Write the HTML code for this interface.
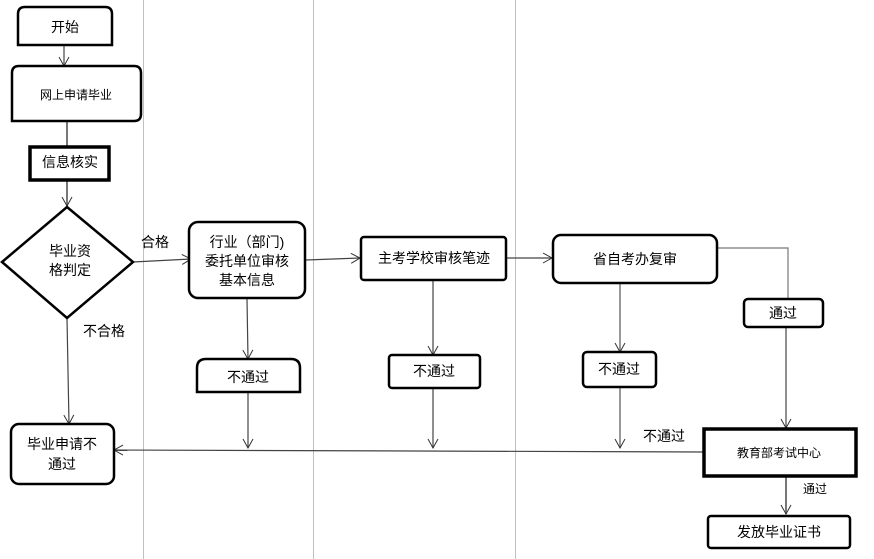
<!DOCTYPE html>
<html><head><meta charset="utf-8"><style>
html,body{margin:0;padding:0;background:#fff}
svg{display:block}
text{font-family:"Liberation Sans","Noto Sans CJK SC","WenQuanYi Zen Hei",sans-serif;fill:#000}
</style></head><body>
<svg width="874" height="559" viewBox="0 0 874 559" xmlns="http://www.w3.org/2000/svg">
<defs>
<marker id="a" markerWidth="12" markerHeight="12" refX="10" refY="6" orient="auto" markerUnits="userSpaceOnUse">
<path d="M1,1 L10,6 L1,11" fill="none" stroke="#333" stroke-width="1"/>
</marker>
</defs>
<g stroke="#c0c0c0" stroke-width="1">
<line x1="143.5" y1="0" x2="143.5" y2="559"/>
<line x1="313.5" y1="0" x2="313.5" y2="559"/>
<line x1="515.5" y1="0" x2="515.5" y2="559"/>
</g>
<g stroke="#444" stroke-width="1.2" fill="none">
<line x1="64" y1="45" x2="64" y2="66" marker-end="url(#a)"/>
<line x1="67" y1="121" x2="67" y2="147" stroke="#777" stroke-width="2"/>
<line x1="67" y1="181" x2="67" y2="206" stroke="#777" stroke-width="2" marker-end="url(#a)"/>
<line x1="133" y1="262" x2="191" y2="259" marker-end="url(#a)"/>
<line x1="67" y1="318" x2="69" y2="424" marker-end="url(#a)"/>
<line x1="306" y1="260" x2="360" y2="258" marker-end="url(#a)"/>
<line x1="506" y1="258" x2="552" y2="258" marker-end="url(#a)"/>
<line x1="247" y1="299" x2="248" y2="359" marker-end="url(#a)"/>
<line x1="248" y1="393" x2="248" y2="448" marker-end="url(#a)"/>
<line x1="433" y1="280" x2="433" y2="355" marker-end="url(#a)"/>
<line x1="433" y1="389" x2="433" y2="448" marker-end="url(#a)"/>
<line x1="620" y1="283" x2="620" y2="352" marker-end="url(#a)" stroke="#777" stroke-width="1.5"/>
<line x1="620" y1="387" x2="620" y2="448" marker-end="url(#a)" stroke="#777" stroke-width="1.5"/>
<polyline points="718,248 788,248 788,299" stroke="#777"/>
<line x1="786" y1="327" x2="786" y2="428" marker-end="url(#a)"/>
<line x1="704" y1="452" x2="114" y2="450" marker-end="url(#a)"/>
<line x1="786" y1="477" x2="786" y2="514" stroke="#777" stroke-width="2" marker-end="url(#a)"/>
</g>
<g stroke="#000" stroke-width="2.5" fill="#fff">
<path d="M18,45 V14 Q18,7 25,7 H105 Q112,7 112,14 V45 Z"/>
<path d="M12,121 V73 Q12,66 19,66 H134 Q141,66 141,73 V114 Q141,121 134,121 Z"/>
<rect x="30" y="147" width="79" height="33" stroke-width="3.5"/>
<polygon points="67,207 133,262 67,318 2,262"/>
<rect x="189" y="222" width="116" height="76" rx="9"/>
<rect x="361" y="237" width="145" height="43" rx="3"/>
<rect x="553" y="235" width="164" height="48" rx="8"/>
<rect x="744" y="299" width="79" height="28" rx="4"/>
<path d="M197,392 V368 Q197,359 206,359 H291 Q300,359 300,368 V392 Z"/>
<rect x="389" y="355" width="91" height="33" rx="3"/>
<rect x="583" y="352" width="73" height="35" rx="4"/>
<rect x="11" y="424" width="103" height="60" rx="8"/>
<rect x="704" y="429" width="152" height="47" stroke-width="3.5"/>
<rect x="708" y="516" width="142" height="32" rx="3"/>
</g>
<g font-size="14" text-anchor="middle">
<text x="65" y="32">开始</text>
<text x="76" y="99" font-size="12">网上申请毕业</text>
<text x="70" y="167">信息核实</text>
<text x="70" y="256">毕业资</text>
<text x="70" y="275">格判定</text>
<text x="247" y="247">行业（部门)</text>
<text x="247" y="266">委托单位审核</text>
<text x="247" y="285">基本信息</text>
<text x="434" y="263">主考学校审核笔迹</text>
<text x="635" y="264">省自考办复审</text>
<text x="783" y="318">通过</text>
<text x="248" y="382">不通过</text>
<text x="434" y="376">不通过</text>
<text x="619" y="374">不通过</text>
<text x="62" y="449">毕业申请不</text>
<text x="62" y="469">通过</text>
<text x="779" y="457" font-size="12">教育部考试中心</text>
<text x="779" y="537">发放毕业证书</text>
<text x="155" y="247">合格</text>
<text x="104" y="336">不合格</text>
<text x="664" y="441">不通过</text>
<text x="815" y="493" font-size="12">通过</text>
</g>
</svg>
</body></html>
